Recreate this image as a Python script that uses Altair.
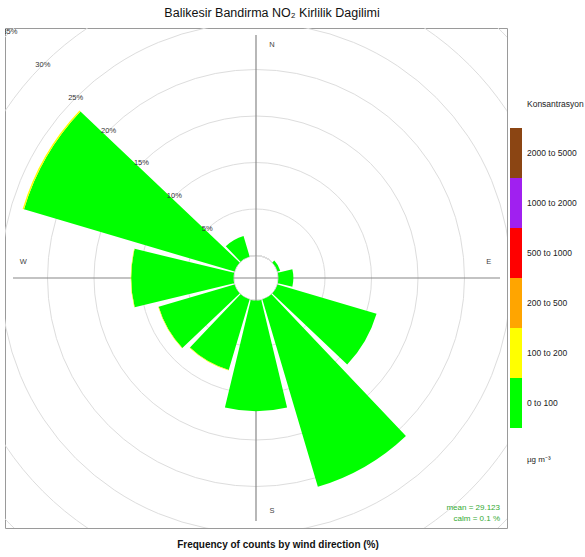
import math

import altair as alt
import pandas as pd

# ---- data -------------------------------------------------------------
# Wind sectors (degrees from north) and the share of hours (%) per band
directions = [0, 30, 60, 90, 120, 150, 180, 210, 240, 270, 300, 330]
pct_0_100 = [0.0, 0.0, 0.3, 1.6, 11.1, 21.0, 11.9, 7.9, 8.5, 11.0, 23.6, 2.3]
pct_100_200 = [0.0, 0.0, 0.0, 0.0, 0.0, 0.0, 0.0, 0.05, 0.05, 0.05, 0.15, 0.0]

bands = ["0 to 100", "100 to 200", "200 to 500", "500 to 1000",
         "1000 to 2000", "2000 to 5000"]
band_colors = ["#00FF00", "#FFFF00", "#FFA500", "#FF0000", "#A020F0", "#8B4513"]

ring_levels = [0, 5, 10, 15, 20, 25, 30, 35]
ring_label_angle = 315

compass_points = ["N", "E", "S", "W"]
compass_angles = [0, 90, 180, 270]
compass_radius = 22.6

mean_value = 29.123
calm_pct = 0.1

title_text = "Balikesir Bandirma NO\u2082 Kirlilik Dagilimi"
xlab_text = "Frequency of counts by wind direction (%)"
legend_title = "Konsantrasyon"
legend_unit = "\u00b5g m\u207b\u00b3"

# ---- layout constants ---------------------------------------------------
FONT = "Liberation Sans"
W, H = 502, 500
SECTOR_HALF = 13.5

# ---- tables -----------------------------------------------------------
rows = []
for d, a, b in zip(directions, pct_0_100, pct_100_200):
    base = 0.0
    for band, v in ((bands[0], a), (bands[1], b)):
        if v > 0:
            rows.append({"dir": d, "t0": d - SECTOR_HALF, "t1": d + SECTOR_HALF,
                         "r0": base, "r1": base + v, "band": band})
            base += v
sector_df = pd.DataFrame(rows)

ring_df = pd.DataFrame({"level": ring_levels})
ring_label_df = pd.DataFrame({
    "level": ring_levels[1:],
    "label": [f"{v}%" for v in ring_levels[1:]],
    "angle": [ring_label_angle] * (len(ring_levels) - 1),
})
compass_df = pd.DataFrame({"point": compass_points, "angle": compass_angles,
                           "rad": [compass_radius] * 4})
ns_df = compass_df[compass_df["point"].isin(["N", "S"])]
ew_df = compass_df[compass_df["point"].isin(["E", "W"])]
legend_df = pd.DataFrame({"band": bands})

# ---- scales -----------------------------------------------------------
theta_scale = alt.Scale(type="linear", domain=[0, 360], range=[0, 2 * math.pi],
                        nice=False, zero=False)
radius_scale = alt.Scale(type="linear", domain=[0, 35], range=[22.5, 348],
                         nice=False, zero=False)
color_scale = alt.Scale(domain=bands, range=band_colors)
legend_y = alt.Scale(domain=bands[::-1], range=[100, 400],
                     paddingInner=0, paddingOuter=0)

# ---- layers -----------------------------------------------------------
# grid circles: one full, unfilled arc per percentage level
rings = alt.Chart(ring_df).mark_arc(
    filled=False, stroke="#dddddd", strokeWidth=1, clip=True
).encode(
    theta=alt.value(0),
    theta2=alt.value(2 * math.pi),
    radius=alt.Radius("level:Q", scale=radius_scale, stack=None),
)

cross_v = alt.Chart(pd.DataFrame({"k": [0]})).mark_rule(
    color="#888888", strokeWidth=1.2
).encode(x=alt.value(W / 2), y=alt.value(7), y2=alt.value(H - 7))

cross_h = alt.Chart(pd.DataFrame({"k": [0]})).mark_rule(
    color="#888888", strokeWidth=1.2
).encode(y=alt.value(H / 2), x=alt.value(8), x2=alt.value(W - 7))

sectors = alt.Chart(sector_df).mark_arc(clip=True).encode(
    theta=alt.Theta("t0:Q", scale=theta_scale, stack=None),
    theta2="t1:Q",
    radius=alt.Radius("r0:Q", scale=radius_scale, stack=None),
    radius2="r1:Q",
    color=alt.Color("band:N", scale=color_scale, legend=None),
)

ring_text = alt.Chart(ring_label_df).mark_text(
    font=FONT, fontSize=7.5, color="#333333", clip=True
).encode(
    theta=alt.Theta("angle:Q", scale=theta_scale, stack=None),
    radius=alt.Radius("level:Q", scale=radius_scale, stack=None),
    text="label:N",
)

compass_ns = alt.Chart(ns_df).mark_text(
    font=FONT, fontSize=7.5, color="#444444", dx=16
).encode(
    theta=alt.Theta("angle:Q", scale=theta_scale, stack=None),
    radius=alt.Radius("rad:Q", scale=radius_scale, stack=None),
    text="point:N",
)

compass_ew = alt.Chart(ew_df).mark_text(
    font=FONT, fontSize=7.5, color="#444444", dy=-16
).encode(
    theta=alt.Theta("angle:Q", scale=theta_scale, stack=None),
    radius=alt.Radius("rad:Q", scale=radius_scale, stack=None),
    text="point:N",
)

stats_df = pd.DataFrame({
    "txt": [f"mean = {mean_value}", f"calm = {calm_pct} %"],
    "ypos": [480, 491],
})
stats = alt.Chart(stats_df).mark_text(
    font=FONT, fontSize=8, color="#33aa33", align="right", baseline="middle"
).encode(x=alt.value(W - 7), y=alt.Y("ypos:Q", scale=None), text="txt:N")

legend_rects = alt.Chart(legend_df).mark_rect().encode(
    x=alt.value(W + 3), x2=alt.value(W + 15),
    y=alt.Y("band:N", scale=legend_y, axis=None),
    color=alt.Color("band:N", scale=color_scale, legend=None),
)

legend_labels = alt.Chart(legend_df).mark_text(
    font=FONT, fontSize=8.5, color="#222222", align="left", baseline="middle"
).encode(
    x=alt.value(W + 20),
    y=alt.Y("band:N", scale=legend_y, axis=None),
    text="band:N",
)

legend_head = alt.Chart(pd.DataFrame({"t": [legend_title]})).mark_text(
    font=FONT, fontSize=8.5, color="#222222", align="left", baseline="middle"
).encode(x=alt.value(W + 20), y=alt.value(76), text="t:N")

legend_foot = alt.Chart(pd.DataFrame({"t": [legend_unit]})).mark_text(
    font=FONT, fontSize=8, color="#222222", align="left", baseline="middle"
).encode(x=alt.value(W + 20), y=alt.value(432), text="t:N")

title = alt.Chart(pd.DataFrame({"t": [title_text]})).mark_text(
    font=FONT, fontSize=12.5, color="#111111", align="center",
    baseline="alphabetic"
).encode(x=alt.value(267), y=alt.value(-11.5), text="t:N")

xlab = alt.Chart(pd.DataFrame({"t": [xlab_text]})).mark_text(
    font=FONT, fontSize=10, fontWeight="bold", color="#111111",
    align="center", baseline="middle"
).encode(x=alt.value(273), y=alt.value(517), text="t:N")

chart = alt.layer(
    rings, cross_v, cross_h, sectors, ring_text, compass_ns, compass_ew,
    stats, legend_rects, legend_labels, legend_head, legend_foot, title, xlab,
).properties(
    width=W,
    height=H,
    padding={"left": 5, "top": 28, "right": 585 - 5 - W, "bottom": 557 - 28 - H},
    autosize=alt.AutoSizeParams(type="none"),
    background="white",
).configure_view(stroke="#9a9a9a", strokeWidth=1)

chart.save("out.html", embed_options={"renderer": "svg", "actions": False})
